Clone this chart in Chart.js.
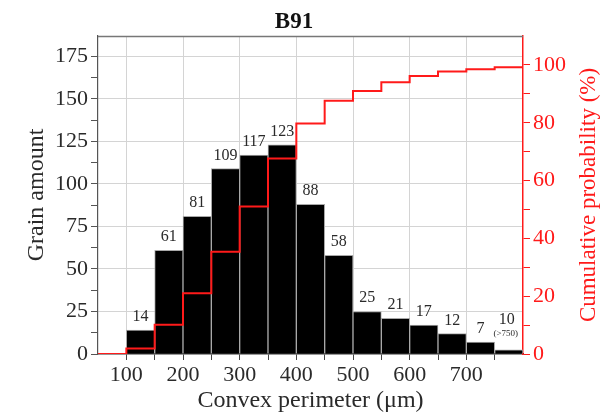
<!DOCTYPE html>
<html><head><meta charset="utf-8">
<script src="https://cdn.jsdelivr.net/npm/chart.js@4"></script>
<style>html,body{margin:0;padding:0;background:#fff}canvas{display:block}</style>
</head><body>
<canvas id="c" width="612" height="419"></canvas>
<script>
const chartTitle = 'B91';
const xTitle = 'Convex perimeter (\u03bcm)';
const yTitle = 'Grain amount';
const y2Title = 'Cumulative probability (%)';
const binStarts = [100,150,200,250,300,350,400,450,500,550,600,650,700,750];
const binWidth = 50;
const barValues = [14,61,81,109,117,123,88,58,25,21,17,12,7,2.5];
const barLabels = ['14','61','81','109','117','123','88','58','25','21','17','12','7','10'];
const barNotes = ['','','','','','','','','','','','','','(>750)'];
const cumX = [50,100,150,200,250,300,350,400,450,500,550,600,650,700,750,800];
const cumY = [0,1.9,10.1,21,35.4,51,67.6,79.7,87.6,91,94,96.2,97.7,98.5,99.2,99.2];
const xTickValues = [100,200,300,400,500,600,700];
const xMinorTicks = [150,250,350,450,550,650,750];
const yTickValues = [0,25,50,75,100,125,150,175];
const yMinorTicks = [12.5,37.5,62.5,87.5,112.5,137.5,162.5];
const y2TickValues = [0,20,40,60,80,100];
const y2MinorTicks = [10,30,50,70,90];

const FONT = "'Liberation Serif', 'Times New Roman', serif";
const RED = '#ff1a1a';
const TXT = '#2a2a2a';

function mkTicks(major, minor){
  return major.concat(minor).sort((a,b)=>a-b).map(v=>({value:v}));
}
function isMajor(list, v){ return list.indexOf(v) !== -1; }

const decor = {
  id: 'decor',
  afterDatasetsDraw(chart){
    const ctx = chart.ctx;
    const meta = chart.getDatasetMeta(0);
    ctx.save();
    ctx.fillStyle = TXT;
    ctx.textAlign = 'center';
    ctx.textBaseline = 'alphabetic';
    meta.data.forEach((el, i) => {
      const note = barNotes[i];
      if (note) {
        ctx.font = '16px ' + FONT;
        ctx.fillText(barLabels[i], el.x - 2, el.y - 26);
        ctx.font = '9px ' + FONT;
        ctx.fillText(note, el.x - 3, el.y - 14);
      } else {
        ctx.font = '16px ' + FONT;
        ctx.fillText(barLabels[i], el.x, el.y - 9);
      }
    });
    ctx.restore();
  },
  afterDraw(chart){
    const ctx = chart.ctx, a = chart.chartArea;
    ctx.save();
    ctx.strokeStyle = '#777';
    ctx.lineWidth = 1.5;
    ctx.beginPath();
    ctx.moveTo(a.left, a.top + 0.5);
    ctx.lineTo(a.right, a.top + 0.5);
    ctx.stroke();
    ctx.fillStyle = '#111';
    ctx.font = 'bold 23px ' + FONT;
    ctx.textAlign = 'center';
    ctx.textBaseline = 'alphabetic';
    ctx.fillText(chartTitle, 294, 28);
    ctx.fillStyle = RED;
    ctx.font = '23px ' + FONT;
    ctx.translate(589, (a.top + a.bottom) / 2);
    ctx.rotate(-Math.PI / 2);
    ctx.textBaseline = 'middle';
    ctx.fillText(y2Title, 0, 0);
    ctx.restore();
  }
};

new Chart(document.getElementById('c'), {
  type: 'bar',
  data: {
    datasets: [
      {
        type: 'bar',
        order: 1,
        data: binStarts.map((s, i) => ({x: s + binWidth / 2, y: barValues[i]})),
        backgroundColor: '#000',
        borderColor: '#a8a8a8',
        borderWidth: 1,
        borderSkipped: 'bottom',
        barPercentage: 1,
        categoryPercentage: 1,
        yAxisID: 'y'
      },
      {
        type: 'line',
        order: 0,
        data: cumX.map((x, i) => ({x: x, y: cumY[i]})),
        borderColor: RED,
        borderWidth: 2,
        pointRadius: 0,
        stepped: 'before',
        fill: false,
        yAxisID: 'y2'
      }
    ]
  },
  options: {
    responsive: false,
    animation: false,
    devicePixelRatio: 1,
    layout: { padding: { top: 36, left: 0, right: 0, bottom: 0 } },
    plugins: { legend: { display: false }, tooltip: { enabled: false }, title: { display: false } },
    scales: {
      x: {
        type: 'linear',
        position: 'bottom',
        offset: false,
        min: 50, max: 800,
        afterBuildTicks: s => { s.ticks = mkTicks(xTickValues, xMinorTicks); },
        afterFit: s => { s.height = 65; },
        ticks: {
          autoSkip: false, maxRotation: 0,
          padding: 2,
          color: TXT,
          font: { family: FONT, size: 22 },
          callback: v => isMajor(xTickValues, v) ? String(v) : ''
        },
        grid: {
          offset: false,
          color: c => (c.tick && isMajor(xTickValues, c.tick.value)) ? '#d4d4d4' : 'rgba(0,0,0,0)',
          tickColor: '#444',
          tickLength: 6,
          lineWidth: 1
        },
        border: { color: '#333', width: 1.5 },
        title: { display: true, text: xTitle, color: TXT, font: { family: FONT, size: 24 }, padding: { top: 0, bottom: 4 } }
      },
      y: {
        type: 'linear',
        position: 'left',
        min: 0, max: 187,
        afterBuildTicks: s => { s.ticks = mkTicks(yTickValues, yMinorTicks); },
        afterFit: s => { s.width = 98; },
        ticks: {
          autoSkip: false,
          padding: 3,
          color: TXT,
          font: { family: FONT, size: 22 },
          callback: v => isMajor(yTickValues, v) ? String(v) : ''
        },
        grid: {
          color: c => (c.tick && isMajor(yTickValues, c.tick.value) && c.tick.value !== 0) ? '#d4d4d4' : 'rgba(0,0,0,0)',
          tickColor: '#555',
          tickLength: 7,
          lineWidth: 1
        },
        border: { color: '#555', width: 1.2 },
        title: { display: true, text: yTitle, color: TXT, font: { family: FONT, size: 24 }, padding: { top: 22, bottom: 0 } }
      },
      y2: {
        type: 'linear',
        position: 'right',
        min: 0, max: 110,
        afterBuildTicks: s => { s.ticks = mkTicks(y2TickValues, y2MinorTicks); },
        afterFit: s => { s.width = 89; },
        ticks: {
          autoSkip: false,
          padding: 3,
          color: RED,
          font: { family: FONT, size: 22 },
          callback: v => isMajor(y2TickValues, v) ? String(v) : ''
        },
        grid: {
          drawOnChartArea: false,
          tickColor: RED,
          tickLength: 7
        },
        border: { color: RED, width: 1.5 }
      }
    }
  },
  plugins: [decor]
});
</script>
</body></html>
